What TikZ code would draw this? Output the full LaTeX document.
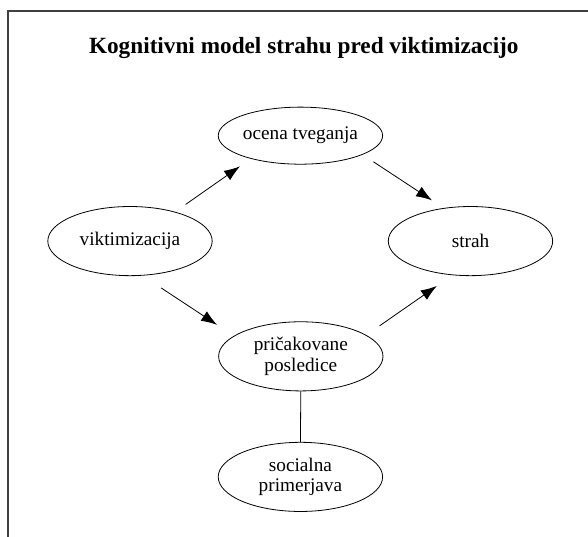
\documentclass[tikz,border=0pt]{standalone}
\usepackage{fontspec}
\setmainfont{Liberation Serif}
\usepackage{tikz}
\usetikzlibrary{shapes.geometric}
\usetikzlibrary{arrows.meta}

\begin{document}
\begin{tikzpicture}[
		stanje/.style={draw, ellipse, line width=0.6pt, inner sep=0pt,
			minimum width=4.35cm, minimum height=1.83cm, align=center,
			font=\fontsize{14.5}{15.5}\selectfont},
		puscica/.style={-{Latex[length=12pt,width=8.5pt]}, line width=0.6pt},
		okvir/.style={line width=1.2pt, black!75}]
		\useasboundingbox (0,0) rectangle (15.56,14.21);
		\draw[okvir] (0.21,0) -- (0.21,13.92) -- (15.56,13.92);
		\node[anchor=base, font=\bfseries\fontsize{17.5}{20}\selectfont] (naslov) at (8.04,12.8) {Kognitivni model strahu pred viktimizacijo};
		\node[stanje, minimum height=1.51cm] (ocena) at (7.95,10.62) {ocena tveganja};
		\node[stanje] (vikt) at (3.44,7.83) {viktimizacija};
		\node[stanje] (strah) at (12.45,7.83) {strah};
		\node[stanje] (posl) at (7.96,4.78) {pričakovane\\posledice};
		\node[stanje] (prim) at (7.95,1.59) {socialna\\primerjava};
		\draw[puscica, shorten <=0.34cm, shorten >=0.35cm] (vikt.33.7) -- (ocena.205.9);
		\draw[puscica, shorten <=0.34cm, shorten >=0.37cm] (ocena.343.8) -- (strah.129);
		\draw[puscica, shorten <=0.59cm, shorten >=0.53cm] (vikt.290.3) -- (posl.163);
		\draw[puscica, shorten <=0.43cm, shorten >=0.50cm] (posl.18.2) -- (strah.242.4);
		\draw[line width=0.6pt] (posl.south) -- (prim.north);
	\end{tikzpicture}
\end{document}
